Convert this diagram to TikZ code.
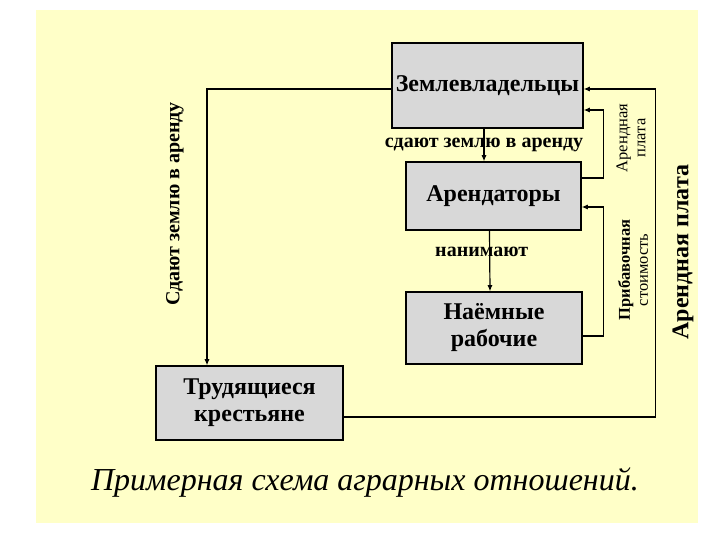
\documentclass[tikz,border=0pt]{standalone}
\usepackage{fontspec}
\setmainfont{Liberation Serif}
\usetikzlibrary{positioning, arrows.meta}

\definecolor{paper}{HTML}{FFFFC8}
\definecolor{boxgray}{HTML}{D8D8D8}

\begin{document}
\begin{tikzpicture}[
  x=1pt, y=-1pt,
  group/.style={rectangle, draw=black, line width=1.2pt, fill=boxgray,
                align=center, inner sep=2pt, font=\bfseries\fontsize{24}{27}\selectfont},
  lab/.style={align=center, font=\bfseries\fontsize{20}{22}\selectfont},
  side/.style={align=center, rotate=90, font=\fontsize{16.5}{18}\selectfont},
  arr/.style={-{Latex[length=2.2mm,width=1.8mm]}, line width=1.2pt, black},
]
% page and yellow sheet
\useasboundingbox (0,0) rectangle (720,540);
\fill[white] (0,0) rectangle (720,540);
\fill[paper] (36,10) rectangle (698,523);

% the four groups
\node[group, minimum width=191pt, minimum height=85pt] (lord) at (487.5,85.5) {Землевладельцы};
\node[group, minimum width=175pt, minimum height=68pt] (tenant) at (493.5,196) {Арендаторы};
\node[group, minimum width=176pt, minimum height=72pt] (hired) at (494,328) {Наёмные\\рабочие};
\node[group, minimum width=187pt, minimum height=74pt] (peas) at (249.5,403) {Трудящиеся\\крестьяне};

% down the chain
\draw[arr] ([xshift=-3.5pt]lord.south) -- node[lab]{сдают землю в аренду} ([xshift=-9.5pt]tenant.north);
\draw[arr] ([xshift=-4pt]tenant.south) -- node[lab, pos=0.35, xshift=-8pt]{нанимают} ([xshift=-4pt]hired.north);

% payments back up
\draw[arr] ([yshift=18pt]tenant.east) -- ++(22,0) |- ([yshift=-24.5pt]lord.east);
\node[side] (rentA) at (631,138) {Арендная\\плата};
\draw[arr] ([yshift=-8pt]hired.east) -- ++(21,0) |- ([yshift=-11pt]tenant.east);
\node[side] (surplus) at (633,270) {\textbf{Прибавочная}\\стоимость};

% peasants loop
\draw[arr] ([yshift=-14pt]peas.east) -- ++(312,0) |- ([yshift=-3.5pt]lord.east);
\node[side, font=\bfseries\fontsize{24}{26}\selectfont] (rentB) at (683,252) {Арендная плата};
\draw[arr] ([yshift=-3.5pt]lord.west) -| ([xshift=-42.5pt]peas.north);
\node[side, font=\bfseries\fontsize{20}{22}\selectfont] (lease) at (175,204) {Сдают землю в аренду};

% caption
\node[font=\itshape\fontsize{32}{34}\selectfont] (title) at (365,483) {Примерная схема аграрных отношений.};
\end{tikzpicture}
\end{document}
